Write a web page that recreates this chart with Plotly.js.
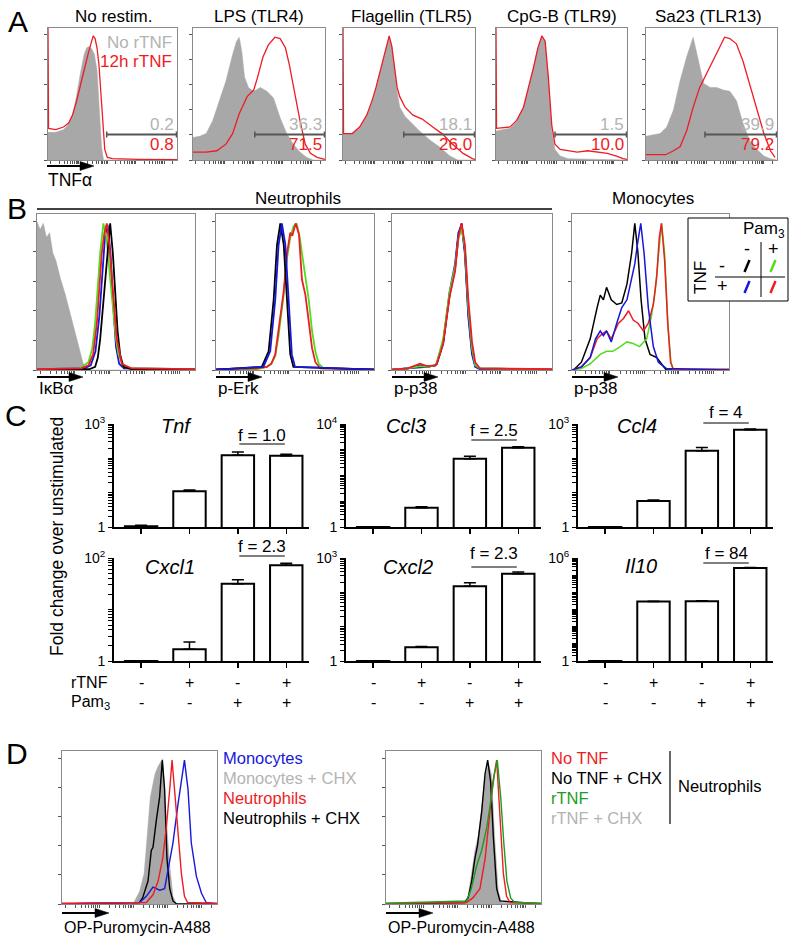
<!DOCTYPE html>
<html>
<head>
<meta charset="utf-8">
<script src="https://cdn.plot.ly/plotly-3.0.1.min.js"></script>
<style>body{margin:0;background:#fff}#fig{width:800px;height:946px}</style>
</head>
<body>
<div id="fig"></div>
<script>
// ---------- panel A: TNF staining histograms (x, y in % of box) ----------
var aTitles = ['No restim.', 'LPS (TLR4)', 'Flagellin (TLR5)', 'CpG-B (TLR9)', 'Sa23 (TLR13)'];
var aGrayNums = ['0.2', '36.3', '18.1', '1.5', '39.9'];
var aRedNums = ['0.8', '71.5', '26.0', '10.0', '79.2'];
var aGateStart = [45.5, 46.8, 46, 45, 45];

var a1GrayX = [0, 6, 12, 16, 19, 22, 25, 28, 30, 32, 34, 36, 38, 40, 41.5, 43, 100];
var a1GrayY = [21, 21, 23, 27, 34, 48, 65, 80, 85, 86, 84, 80, 68, 33, 10, 0, 0];
var a1RedX = [0, 0.4, 6, 12, 16, 19, 22, 25, 28, 31, 33, 35, 36.5, 38, 39.5, 41, 42.5, 44, 46, 50, 70, 100];
var a1RedY = [100, 24, 23, 25, 28, 34, 44, 55, 68, 80, 88, 94, 92, 85, 72, 50, 25, 8, 2, 1, 0.5, 0.3];

var a2GrayX = [0, 5, 10, 15, 20, 25, 30, 33, 35, 37, 39, 42, 46, 51, 56, 61, 66, 71, 76, 81, 86, 91, 100];
var a2GrayY = [17, 18, 20, 30, 45, 60, 80, 90, 93, 82, 63, 55, 52, 55, 52, 47, 32, 20, 12, 6, 2, 0, 0];
var a2RedX = [0, 10, 18, 25, 30, 35, 41, 46, 49, 53, 57, 62, 66, 70, 73, 77, 81, 85, 89, 94, 100];
var a2RedY = [6, 6, 7, 12, 20, 35, 48, 53, 63, 78, 87, 93, 92, 85, 72, 50, 30, 12, 5, 2, 0.5];

var a3GrayX = [0, 7, 12.6, 18, 22, 25, 28, 30, 33, 35, 37, 39, 41, 43, 47, 51, 58, 66, 73, 81, 87, 100];
var a3GrayY = [20, 20, 24, 33, 44, 54, 66, 75, 86, 93, 86, 70, 52, 40, 33, 29, 22, 15, 10, 3, 0, 0];
var a3RedX = [0, 0.4, 7, 12.6, 18, 22, 25, 28, 30, 33, 35, 37, 39, 41, 43, 47, 53, 60, 68, 75, 83, 91, 98, 100];
var a3RedY = [100, 20, 20, 25, 34, 45, 55, 67, 76, 87, 94, 86, 70, 55, 48, 40, 34, 31, 25, 20, 12, 5, 1, 0.5];

var a4GrayX = [0, 10.7, 15.8, 21, 25, 28.6, 32, 35, 37.5, 40, 42.6, 45, 49, 55, 100];
var a4GrayY = [22, 24, 29, 40, 55, 70, 85, 94, 90, 60, 22, 8, 3, 1, 0];
var a4RedX = [0, 0.4, 10.7, 15.8, 21, 25, 28.6, 32, 35, 37.5, 40, 42.6, 45, 49, 55, 62, 70, 78, 85, 92, 97, 100];
var a4RedY = [100, 24, 25, 30, 40, 55, 70, 85, 94, 90, 62, 26, 12, 8, 7, 6, 7, 6, 5, 3, 1, 0.5];

var a5GrayX = [0, 10.7, 15.8, 21, 26, 31, 36, 40, 44, 49, 54, 59, 64, 69, 74, 79, 84.7, 90, 95, 100];
var a5GrayY = [18, 20, 25, 38, 60, 78, 93, 75, 58, 55, 55, 53, 52, 45, 28, 15, 8, 3, 1, 0];
var a5RedX = [0, 15, 21, 26, 31, 36, 41, 46, 51, 56.6, 60, 64, 69, 74, 79, 84.7, 90, 95, 98.5];
var a5RedY = [4, 4, 7, 10, 22, 40, 55, 65, 75, 87, 93, 92, 88, 75, 58, 40, 20, 7, 2];

// ---------- panel B: signalling histograms ----------
var bLabels = ['I\u03baB\u03b1', 'p-Erk', 'p-p38', 'p-p38'];

var b1GrayX = [0, 2, 4, 6, 8, 10, 12, 15, 18, 20, 22, 25, 27, 29, 31, 100];
var b1GrayY = [95, 90, 94, 85, 88, 75, 70, 58, 48, 40, 33, 20, 12, 5, 0, 0];
var b1GreenX = [0, 27, 32.6, 35, 36.8, 38.5, 40, 42, 44, 46, 48, 50, 51.6, 54.7, 60, 100];
var b1GreenY = [0.5, 1, 5, 14, 30, 55, 75, 94, 85, 62, 40, 20, 10, 2, 1, 0.5];
var b1BlueX = [0, 30, 34, 37, 39.5, 41.5, 43, 44.7, 46.5, 48, 50, 52, 55, 100];
var b1BlueY = [0.5, 1, 3, 12, 35, 65, 85, 93, 75, 45, 15, 4, 1, 0.5];
var b1BlackX = [0, 33, 36.8, 38.5, 40, 41.5, 43, 44.7, 46.3, 48, 49.5, 51, 52.6, 54.7, 60, 100];
var b1BlackY = [0.3, 0.5, 2, 8, 20, 38, 60, 80, 94, 75, 50, 25, 10, 2, 0.5, 0.3];
var b1RedX = [0, 28, 32.6, 35.5, 37.9, 39.5, 41, 42.7, 44.2, 45.8, 47.4, 49, 50.5, 53.7, 60, 100];
var b1RedY = [0.5, 1, 3, 10, 30, 52, 75, 88, 94, 80, 60, 38, 20, 4, 1, 0.6];

var b2BlackX = [0, 29, 33.3, 36.5, 38.6, 40.7, 42.9, 45, 47, 49, 100];
var b2BlackY = [0.3, 2, 12, 45, 80, 94, 80, 40, 10, 2, 0.3];
var b2BlueX = [0, 30, 34.3, 37.5, 39.6, 41.7, 43.9, 46, 48, 50, 100];
var b2BlueY = [0.3, 2, 12, 45, 80, 94, 80, 40, 10, 2, 0.3];
var b2GreenX = [0, 26, 32, 35, 37.5, 39.6, 42.8, 45, 47, 49, 51, 53, 54.4, 56.6, 58.7, 60.8, 62.9, 65, 68, 100];
var b2GreenY = [0.3, 0.5, 2, 4, 9, 22, 48, 72, 85, 92, 94, 85, 75, 60, 45, 25, 12, 4, 1, 0.3];
var b2RedX = [0, 25.8, 32.2, 35, 37.5, 39.6, 42.8, 45, 47, 48.3, 50.4, 52.5, 54.4, 56.6, 58.7, 60.8, 62.9, 66, 100];
var b2RedY = [0.5, 1, 2, 4, 10, 25, 50, 75, 88, 86, 94, 87, 58, 48, 29, 14, 5, 1, 0.5];

var b3X = [0, 10, 17.5, 22, 27, 28, 32, 36, 39.4, 41.5, 43.5, 45.6, 47.7, 50, 52, 55, 100];
var b3BlackY = [0.3, 1, 3, 2, 3, 4, 18, 48, 65, 86, 94, 76, 37, 12, 3, 1, 0.3];
var b3BlueY = [0.3, 1, 2, 2, 3, 4, 17, 50, 68, 88, 93, 74, 34, 10, 2, 0.5, 0.3];
var b3GreenY = [0.3, 1, 2.5, 2, 3, 5, 20, 50, 66, 84, 91, 78, 40, 14, 3, 1, 0.3];
var b3RedY = [0.3, 1, 4, 2.5, 3, 4, 17, 47, 63, 85, 94, 80, 45, 18, 5, 1, 0.5];

var b4BlackX = [0, 1, 6, 11.6, 16, 18, 20, 22, 25, 28.5, 31.7, 35, 38, 40, 42, 44, 46.5, 49.7, 54, 58, 60, 100];
var b4BlackY = [0, 0, 5, 20, 40, 48, 45, 53, 45, 42, 43, 55, 75, 94, 75, 45, 20, 10, 8, 3, 0, 0];
var b4BlueX = [0, 6, 11.6, 15, 18, 20, 22, 25, 28.5, 31.7, 35, 38, 40, 41.6, 43.8, 45.9, 48.6, 51.8, 55, 60, 100];
var b4BlueY = [0, 2, 8, 20, 25, 22, 25, 18, 30, 40, 45, 58, 68, 80, 94, 75, 40, 15, 5, 1, 0];
var b4GreenX = [0, 6, 11.6, 18, 22, 26, 30.7, 35, 39, 43, 47.6, 50.7, 52.9, 55, 57, 59, 61, 63, 64.5, 100];
var b4GreenY = [0, 1, 4, 10, 12, 12, 15, 18, 17, 15, 20, 35, 50, 75, 94, 75, 30, 5, 0.5, 0.3];
var b4RedX = [0, 6, 11.6, 16, 19, 22, 25, 29.6, 32.8, 36, 39, 42, 45.5, 48.6, 51.8, 54, 55.6, 57, 59, 61, 62.8, 64.5, 100];
var b4RedY = [0, 2, 8, 20, 23, 25, 20, 30, 33, 38, 32, 30, 25, 30, 42, 60, 85, 94, 70, 30, 5, 0.5, 0.5];

// ---------- panel C: qPCR fold change (log axes) ----------
var conditions = ['none', 'rTNF', 'Pam3', 'rTNF+Pam3'];
var rtnfSigns = ['-', '+', '-', '+'];
var pam3Signs = ['-', '-', '+', '+'];
var genes = ['Tnf', 'Ccl3', 'Ccl4', 'Cxcl1', 'Cxcl2', 'Il10'];
var geneDecades = [3, 4, 3, 2, 3, 6];
var foldLabels = ['f = 1.0', 'f = 2.5', 'f = 4', 'f = 2.3', 'f = 2.3', 'f = 84'];
var tnfVals = [1.06, 11, 123, 119];
var tnfErr = [0.06, 1, 29, 12];
var ccl3Vals = [1, 5.6, 450, 1200];
var ccl3Err = [0, 0.5, 105, 110];
var ccl4Vals = [1, 5.7, 166, 680];
var ccl4Err = [0, 0.4, 42, 40];
var cxcl1Vals = [1, 1.69, 31.6, 72];
var cxcl1Err = [0, 0.66, 6.4, 7];
var cxcl2Vals = [1, 2.5, 150, 350];
var cxcl2Err = [0, 0.15, 40, 40];
var il10Vals = [1, 2900, 3000, 263000];
var il10Err = [0, 150, 250, 15000];

// ---------- panel D: OP-puromycin histograms ----------
var d1GrayX = [0, 45.8, 50, 53, 55, 57, 60, 62, 65, 67, 69.5, 71.6, 73.8, 100];
var d1GrayY = [0, 0, 8, 20, 45, 70, 85, 90, 95, 60, 25, 5, 0, 0];
var d1BlackX = [0, 50, 52, 55.5, 57.6, 58.7, 60.9, 63, 64.7, 66.2, 67.7, 69.5, 71.6, 74, 100];
var d1BlackY = [0, 1, 4, 15, 35, 37, 55, 70, 94, 75, 30, 10, 2, 0, 0];
var d1RedX = [0, 54.4, 58.7, 62, 65, 67.3, 69.5, 71, 73, 74.8, 77, 79, 81, 100];
var d1RedY = [0.5, 1, 6, 15, 30, 50, 75, 94, 70, 45, 20, 5, 1, 0.5];
var d1BlueX = [0, 50, 54.4, 58.7, 60.9, 63, 66.2, 68, 71.6, 74.8, 77, 79, 81.3, 83.4, 86.7, 90, 93, 100];
var d1BlueY = [0, 1, 5, 11, 10, 9, 10, 20, 40, 65, 80, 94, 75, 40, 18, 7, 1, 0];

var d2GrayX = [0, 50, 53, 55.3, 57.4, 59.6, 61.7, 63.9, 66, 68, 70.3, 72.5, 74.6, 100];
var d2GrayY = [0, 1, 5, 20, 35, 45, 65, 82, 92, 85, 40, 8, 1, 0];
var d2BlackX = [0, 51, 53, 55.3, 57.4, 59, 61.7, 63.9, 65.6, 67.5, 69.2, 71.4, 73.5, 100];
var d2BlackY = [0, 1, 4, 15, 30, 38, 60, 85, 94, 80, 45, 10, 2, 0];
var d2RedX = [0, 52, 56, 60.6, 64, 67, 69, 71.4, 73.5, 75.7, 77.8, 80, 100];
var d2RedY = [0.3, 1, 4, 10, 30, 60, 80, 94, 60, 20, 5, 1, 0.3];
var d2GreenX = [0, 52, 55, 58.5, 61.7, 65, 68, 70, 71.8, 74, 76, 78, 80.4, 83, 100];
var d2GreenY = [0.5, 2, 10, 25, 35, 50, 70, 85, 94, 70, 40, 15, 4, 1, 0.5];

var d1Legend = ['Monocytes', 'Monocytes + CHX', 'Neutrophils', 'Neutrophils + CHX'];
var d2Legend = ['No TNF', 'No TNF + CHX', 'rTNF', 'rTNF + CHX'];

// ---------- styling ----------
var FONT = 'Liberation Sans, Arial, Helvetica, sans-serif';
var RED = '#ee1c24', BLUE = '#1717d9', GREEN = '#52dd1c', DGREEN = '#1e9c1e';
var FILL = '#a8a8a8', LIGHT = '#b3b3b3', FRAME = '#8a8a8a';
var W = 800, H = 946;

function px(x) { return x / W; }
function py(y) { return 1 - y / H; }
function k(i) { return i === 1 ? '' : String(i); }

var layout = {
  width: W, height: H,
  margin: {l: 0, r: 0, t: 0, b: 0},
  paper_bgcolor: '#fff', plot_bgcolor: 'rgba(0,0,0,0)',
  showlegend: false,
  font: {family: FONT, size: 14, color: '#000'},
  annotations: [], shapes: []
};
var data = [];

// log-like flow cytometry ticks (all decade and sub-decade marks)
var xTicks = [];
[2, 24, 46, 68, 90].forEach(function (s) {
  for (var m = 1; m < 10; m++) {
    var p = s + 22 * Math.log10(m);
    if (p < 100) xTicks.push(p);
  }
});
var yTicks = [0, 19, 38, 57, 76, 95];

function histAxes(i, l, r, t, b) {
  layout['xaxis' + k(i)] = {
    domain: [px(l), px(r)], anchor: 'y' + k(i), range: [0, 100],
    showgrid: false, zeroline: false, showline: true, mirror: true,
    linecolor: FRAME, linewidth: 1, ticks: 'outside', ticklen: 2.5, tickcolor: '#555',
    tickmode: 'array', tickvals: xTicks, showticklabels: false
  };
  layout['yaxis' + k(i)] = {
    domain: [py(b), py(t)], anchor: 'x' + k(i), range: [0, 100],
    showgrid: false, zeroline: false, showline: true, mirror: true,
    linecolor: FRAME, linewidth: 1, ticks: 'outside', ticklen: 3, tickcolor: '#555',
    tickmode: 'array', tickvals: yTicks, showticklabels: false
  };
}

function curve(xs, ys, i, color, w) {
  return {type: 'scatter', mode: 'lines', x: xs, y: ys, xaxis: 'x' + k(i), yaxis: 'y' + k(i),
    line: {color: color, width: w}, hoverinfo: 'skip'};
}
function filled(xs, ys, i) {
  return {type: 'scatter', mode: 'lines', x: xs, y: ys, xaxis: 'x' + k(i), yaxis: 'y' + k(i),
    fill: 'tozeroy', fillcolor: FILL, line: {color: FILL, width: 0.5}, hoverinfo: 'skip'};
}

function text(t, x, y, size, opts) {
  var a = {text: t, x: px(x), y: py(y), xref: 'paper', yref: 'paper', showarrow: false,
    xanchor: 'center', yanchor: 'middle', font: {family: FONT, size: size, color: '#000'}};
  if (opts) for (var key in opts) {
    if (key === 'color') a.font.color = opts[key];
    else if (key === 'italic') a.font.style = 'italic';
    else a[key] = opts[key];
  }
  layout.annotations.push(a);
}
function hline(x0, x1, y, color, w) {
  layout.shapes.push({type: 'line', xref: 'paper', yref: 'paper', x0: px(x0), x1: px(x1),
    y0: py(y), y1: py(y), line: {color: color, width: w}});
}
function vline(x, y0, y1, color, w) {
  layout.shapes.push({type: 'line', xref: 'paper', yref: 'paper', x0: px(x), x1: px(x),
    y0: py(y0), y1: py(y1), line: {color: color, width: w}});
}
// axis arrows drawn as a line plus a filled triangular head
function arrow(x0, x1, y) {
  hline(x0, x1 - 10, y, '#000', 2);
  layout.shapes.push({type: 'path', xref: 'paper', yref: 'paper',
    path: 'M' + px(x1 - 14) + ',' + py(y - 4.5) + ' L' + px(x1) + ',' + py(y) + ' L' + px(x1 - 14) + ',' + py(y + 4.5) + ' Z',
    fillcolor: '#000', line: {color: '#000', width: 0.5}});
}

// ---------- panel A ----------
var aBoxes = [[48, 177], [193, 325], [343, 475], [496, 627], [646, 777]];
var aTitleX = [114, 259, 411, 562, 708];
var aGray = [[a1GrayX, a1GrayY], [a2GrayX, a2GrayY], [a3GrayX, a3GrayY], [a4GrayX, a4GrayY], [a5GrayX, a5GrayY]];
var aRed = [[a1RedX, a1RedY], [a2RedX, a2RedY], [a3RedX, a3RedY], [a4RedX, a4RedY], [a5RedX, a5RedY]];
aBoxes.forEach(function (bx, j) {
  var i = j + 1;
  histAxes(i, bx[0], bx[1], 28, 160);
  data.push(filled(aGray[j][0], aGray[j][1], i));
  data.push(curve(aRed[j][0], aRed[j][1], i, RED, 1.3));
  text(aTitles[j], aTitleX[j], 17, 17);
  var xr = 'x' + k(i), yr = 'y' + k(i);
  var g0 = aGateStart[j];
  layout.shapes.push({type: 'line', xref: xr, yref: yr, x0: g0, x1: 100, y0: 19.3, y1: 19.3, line: {color: '#555', width: 2}});
  layout.shapes.push({type: 'line', xref: xr, yref: yr, x0: g0, x1: g0, y0: 17, y1: 21.6, line: {color: '#555', width: 1.5}});
  layout.shapes.push({type: 'line', xref: xr, yref: yr, x0: 99.6, x1: 99.6, y0: 17, y1: 21.6, line: {color: '#555', width: 1.5}});
  layout.annotations.push({text: aGrayNums[j], xref: xr, yref: yr, x: 99, y: 27, xanchor: 'right', yanchor: 'middle',
    showarrow: false, font: {family: FONT, size: 17, color: LIGHT}});
  layout.annotations.push({text: aRedNums[j], xref: xr, yref: yr, x: 99, y: 11.5, xanchor: 'right', yanchor: 'middle',
    showarrow: false, font: {family: FONT, size: 17, color: RED}});
});
text('No rTNF', 174, 42, 17, {xanchor: 'right', color: LIGHT});
text('12h rTNF', 174, 62, 17, {xanchor: 'right', color: RED});
arrow(47, 94, 166);
text('TNF\u03b1', 46, 180, 17.5, {xanchor: 'left'});
text('A', 18, 21, 30);

// ---------- panel B ----------
var bBoxes = [[37, 195], [216, 374], [392, 552], [572, 729]];
bBoxes.forEach(function (bx, j) {
  histAxes(6 + j, bx[0], bx[1], 214, 370);
  arrow(bx[0], bx[0] + 46, 377);
  text(bLabels[j], bx[0], 388, 17, {xanchor: 'left'});
});
data.push(filled(b1GrayX, b1GrayY, 6));
data.push(curve(b1BlueX, b1BlueY, 6, BLUE, 1.8));
data.push(curve(b1GreenX, b1GreenY, 6, GREEN, 1.8));
data.push(curve(b1BlackX, b1BlackY, 6, '#000', 1.8));
data.push(curve(b1RedX, b1RedY, 6, RED, 1.8));

data.push(curve(b2GreenX, b2GreenY, 7, GREEN, 1.8));
data.push(curve(b2RedX, b2RedY, 7, RED, 1.8));
data.push(curve(b2BlackX, b2BlackY, 7, '#000', 1.8));
data.push(curve(b2BlueX, b2BlueY, 7, BLUE, 1.8));

data.push(curve(b3X, b3BlackY, 8, '#000', 1.8));
data.push(curve(b3X, b3BlueY, 8, BLUE, 1.8));
data.push(curve(b3X, b3GreenY, 8, GREEN, 1.8));
data.push(curve(b3X, b3RedY, 8, RED, 1.8));

data.push(curve(b4BlackX, b4BlackY, 9, '#000', 1.5));
data.push(curve(b4GreenX, b4GreenY, 9, GREEN, 1.5));
data.push(curve(b4RedX, b4RedY, 9, RED, 1.5));
data.push(curve(b4BlueX, b4BlueY, 9, BLUE, 1.5));

text('Neutrophils', 298, 198, 17);
hline(37, 552, 209, '#000', 1.5);
text('Monocytes', 653, 198, 17);
text('B', 17, 208, 30);

// B legend box
layout.shapes.push({type: 'rect', xref: 'paper', yref: 'paper', x0: px(688), x1: px(788), y0: py(301), y1: py(218),
  line: {color: '#000', width: 1}, fillcolor: '#fff'});
text('Pam<sub>3</sub>', 764, 230, 17);
text('-', 747, 249, 18);
text('+', 773, 249, 18);
text('TNF', 700, 278, 17, {textangle: -90});
text('-', 722, 266, 18);
text('+', 722, 286, 18);
hline(715, 785, 277, '#000', 1);
vline(761, 242, 297, '#000', 1);
[[747, 266, '#000'], [773, 266, GREEN], [747, 287, BLUE], [773, 287, RED]].forEach(function (s) {
  layout.shapes.push({type: 'line', xref: 'paper', yref: 'paper', x0: px(s[0] - 2.5), x1: px(s[0] + 2.5),
    y0: py(s[1] + 6), y1: py(s[1] - 6), line: {color: s[2], width: 2.5}});
});

// ---------- panel C ----------
var cVals = [tnfVals, ccl3Vals, ccl4Vals, cxcl1Vals, cxcl2Vals, il10Vals];
var cErr = [tnfErr, ccl3Err, ccl4Err, cxcl1Err, cxcl2Err, il10Err];
var cCols = [[114, 309], [346, 541], [578, 773]];
var cRows = [[424, 527], [558, 661]];
var geneX = [176, 406, 637, 170, 408, 641];
var geneY = [426, 426, 426, 567, 567, 566];
var fY = [435, 430, 412, 546, 553, 553];
var fLineY = [444, 440, 423, 556, 567, 563];
genes.forEach(function (g, j) {
  var i = 10 + j;
  var col = cCols[j % 3], row = cRows[Math.floor(j / 3)];
  var dec = geneDecades[j];
  // every 1..9 x 10^e mark, labelled only at the ends
  var tv = [], tt = [];
  for (var e = 0; e < dec; e++) {
    for (var m = 1; m < 10; m++) {
      tv.push(m * Math.pow(10, e));
      tt.push(e === 0 && m === 1 ? '1' : '');
    }
  }
  tv.push(Math.pow(10, dec));
  tt.push('10<sup>' + dec + '</sup>');
  layout['xaxis' + i] = {
    domain: [px(col[0]), px(col[1])], anchor: 'y' + i, type: 'category',
    categoryorder: 'array', categoryarray: conditions, range: [-0.56, 3.47],
    showgrid: false, zeroline: false, showline: true, linecolor: '#000', linewidth: 2,
    ticks: 'outside', ticklen: 5, tickwidth: 1.5, tickcolor: '#000', showticklabels: false
  };
  layout['yaxis' + i] = {
    domain: [py(row[1]), py(row[0])], anchor: 'x' + i, type: 'log', range: [0, dec],
    showgrid: false, zeroline: false, showline: true, linecolor: '#000', linewidth: 2,
    ticks: 'outside', ticklen: 4, tickwidth: 1, tickcolor: '#000',
    tickmode: 'array', tickvals: tv, ticktext: tt,
    tickfont: {family: FONT, size: 14, color: '#000'}
  };
  data.push({
    type: 'bar', x: conditions, y: cVals[j], xaxis: 'x' + i, yaxis: 'y' + i, width: 0.67,
    marker: {color: '#fff', line: {color: '#000', width: 2}},
    error_y: {type: 'data', array: cErr[j], arrayminus: cErr[j].map(function () { return 0; }),
      symmetric: false, color: '#000', thickness: 1.5, width: 6},
    hoverinfo: 'skip'
  });
  text(g, geneX[j], geneY[j], 20, {italic: true});
  layout.annotations.push({text: foldLabels[j], xref: 'x' + i, yref: 'paper', x: 2.5, y: py(fY[j]),
    showarrow: false, yanchor: 'middle', font: {family: FONT, size: 17, color: '#000'}});
  layout.shapes.push({type: 'line', xref: 'x' + i, yref: 'paper', x0: 2.03, x1: 2.97,
    y0: py(fLineY[j]), y1: py(fLineY[j]), line: {color: '#000', width: 1.2}});
});
text('Fold change over unstimulated', 57, 537, 17.5, {textangle: -90});
text('rTNF', 69, 682, 16, {xanchor: 'left'});
text('Pam<sub>3</sub>', 69, 702, 16, {xanchor: 'left'});
[13, 14, 15].forEach(function (i) {
  conditions.forEach(function (c, q) {
    layout.annotations.push({text: rtnfSigns[q], xref: 'x' + i, yref: 'paper', x: q, y: py(682),
      showarrow: false, yanchor: 'middle', font: {family: FONT, size: 16, color: '#000'}});
    layout.annotations.push({text: pam3Signs[q], xref: 'x' + i, yref: 'paper', x: q, y: py(702),
      showarrow: false, yanchor: 'middle', font: {family: FONT, size: 16, color: '#000'}});
  });
});
text('C', 16, 415, 30);

// ---------- panel D ----------
histAxes(16, 62, 217, 751, 904);
histAxes(17, 386, 541, 751, 904);
data.push(filled(d1GrayX, d1GrayY, 16));
data.push(curve(d1BlackX, d1BlackY, 16, '#000', 1.4));
data.push(curve(d1BlueX, d1BlueY, 16, BLUE, 1.4));
data.push(curve(d1RedX, d1RedY, 16, RED, 1.4));
data.push(filled(d2GrayX, d2GrayY, 17));
data.push(curve(d2BlackX, d2BlackY, 17, '#000', 1.4));
data.push(curve(d2RedX, d2RedY, 17, RED, 1.4));
data.push(curve(d2GreenX, d2GreenY, 17, DGREEN, 1.4));

var d1Colors = [BLUE, LIGHT, RED, '#000'];
var d2Colors = [RED, '#000', DGREEN, LIGHT];
var legY = [758, 778, 798, 818];
d1Legend.forEach(function (t, q) { text(t, 221, legY[q], 16.5, {xanchor: 'left', color: d1Colors[q]}); });
d2Legend.forEach(function (t, q) { text(t, 549, legY[q], 16.5, {xanchor: 'left', color: d2Colors[q]}); });
vline(670, 751, 824, '#000', 1.2);
text('Neutrophils', 676, 786, 16.5, {xanchor: 'left'});
[62, 386].forEach(function (x0) {
  arrow(x0, x0 + 47, 913);
  text('OP-Puromycin-A488', x0, 927, 16, {xanchor: 'left'});
});
text('D', 17, 753, 30);

Plotly.newPlot('fig', data, layout, {staticPlot: true});
</script>
</body>
</html>
